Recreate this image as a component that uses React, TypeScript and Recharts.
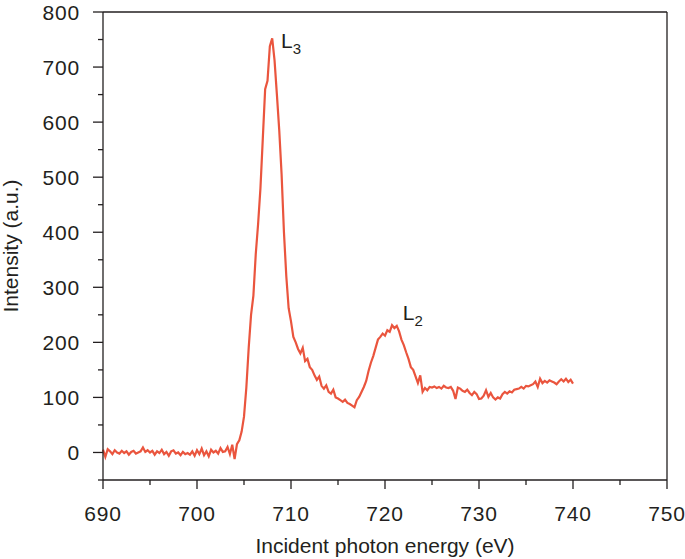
import React from 'react';
import { LineChart, Line, XAxis, YAxis, ReferenceDot, ReferenceLine, Label } from 'recharts';

// energy grid, 0.25 eV steps from 690 to 740
const energyStart = 690;
const energyStep = 0.25;

// intensity, four points per eV
const intensity = [
  5, -8, 6, 2, -3, 4, 0, -2, 3, -1, 2, -4, 1, 3, -2, 0, // 690-693
  2, 9, 1, 4, 0, 3, -4, 2, -1, 5, -3, 1, -6, 2, 4, -2, // 694-697
  0, -5, 1, -3, -1, -4, 2, -6, 4, -3, 7, -5, 2, -7, 5, 0, // 698-701
  3, -2, 8, 1, 2, 10, -3, 14, -12, 15, 22, 38, 65, 118, 190, 250, // 702-705
  285, 360, 415, 480, 570, 660, 675, 738, 752, 712, 650, 585, 505, 400, 320, 262, // 706-709
  238, 210, 200, 188, 180, 190, 166, 170, 155, 150, 140, 132, 138, 121, 116, 122, // 710-713
  110, 107, 114, 100, 98, 95, 92, 96, 90, 88, 85, 82, 95, 101, 110, 119, // 714-717
  130, 148, 163, 175, 190, 205, 210, 216, 212, 222, 219, 231, 226, 230, 220, 205, // 718-721
  195, 182, 170, 155, 150, 138, 126, 140, 110, 117, 113, 119, 118, 120, 117, 119, // 722-725
  116, 121, 118, 117, 119, 112, 97, 118, 116, 112, 110, 114, 108, 104, 110, 106, // 726-729
  97, 98, 103, 113, 101, 108, 100, 96, 100, 98, 106, 110, 107, 111, 109, 114, // 730-733
  115, 116, 119, 116, 121, 120, 122, 124, 129, 119, 134, 126, 130, 127, 131, 129, // 734-737
  127, 124, 129, 133, 129, 134, 128, 132, 125, // 738-740
];

const xTicks = [690, 695, 700, 705, 710, 715, 720, 725, 730, 735, 740, 745, 750];
const yTicks = [-50, 0, 50, 100, 150, 200, 250, 300, 350, 400, 450, 500, 550, 600, 650, 700, 750, 800];

const peakLabels = [
  { name: 'L', sub: '3', energy: 708.94, value: 734 },
  { name: 'L', sub: '2', energy: 721.9, value: 240 },
];

const data = intensity.map((v, i) => ({ energy: energyStart + i * energyStep, value: v }));

const FONT = '"Liberation Sans", Arial, Helvetica, sans-serif';
const INK = '#231f20';
const LINE_RED = '#ea553e';

const XTick = (props: any) => {
  const { x, y, payload } = props;
  const major = payload.value % 10 === 0;
  return (
    <g>
      <line x1={x} x2={x} y1={y} y2={y + (major ? 9 : 5)} stroke={INK} strokeWidth={1.3} />
      {major && (
        <text x={x} y={y + 41} textAnchor="middle" fontSize={21} fill={INK} fontFamily={FONT} letterSpacing={0.8}>
          {payload.value}
        </text>
      )}
    </g>
  );
};

const YTick = (props: any) => {
  const { x, y, payload } = props;
  const major = payload.value % 100 === 0;
  return (
    <g>
      <line x1={x - (major ? 10 : 5)} x2={x} y1={y} y2={y} stroke={INK} strokeWidth={1.3} />
      {major && (
        <text x={x - 23} y={y + 7.5} textAnchor="end" fontSize={21} fill={INK} fontFamily={FONT} letterSpacing={0.8}>
          {payload.value}
        </text>
      )}
    </g>
  );
};

const XTitle = (props: any) => {
  const vb = props.viewBox;
  return (
    <text x={vb.x + vb.width / 2} y={vb.y + 73} textAnchor="middle" fontSize={21} fill={INK} fontFamily={FONT}>
      Incident photon energy (eV)
    </text>
  );
};

const YTitle = (props: any) => {
  const vb = props.viewBox;
  const cy = vb.y + vb.height / 2;
  return (
    <text x={18} y={cy} transform={`rotate(-90, 18, ${cy})`} textAnchor="middle" fontSize={21} fill={INK} fontFamily={FONT}>
      Intensity (a.u.)
    </text>
  );
};

const App = () => {
  return (
    <div style={{ position: 'absolute', left: 0, top: 0, width: 685, height: 559, background: '#fff' }}>
      <LineChart width={685} height={559} data={data} margin={{ top: 12, right: 18, bottom: 0, left: 0 }}>
        <XAxis
          dataKey="energy"
          type="number"
          domain={[690, 750]}
          ticks={xTicks}
          interval={0}
          height={79}
          tickSize={0}
          tickMargin={0}
          tickLine={false}
          tick={<XTick />}
          axisLine={{ stroke: INK, strokeWidth: 1.3 }}
        >
          <Label content={<XTitle />} />
        </XAxis>
        <YAxis
          type="number"
          domain={[-50, 800]}
          ticks={yTicks}
          interval={0}
          width={103}
          tickSize={0}
          tickMargin={0}
          tickLine={false}
          tick={<YTick />}
          axisLine={{ stroke: INK, strokeWidth: 1.3 }}
        >
          <Label content={<YTitle />} />
        </YAxis>
        <ReferenceLine y={800} stroke={INK} strokeWidth={1.3} />
        <ReferenceLine x={750} stroke={INK} strokeWidth={1.3} />
        <Line
          type="linear"
          dataKey="value"
          stroke={LINE_RED}
          strokeWidth={2.2}
          dot={false}
          activeDot={false}
          isAnimationActive={false}
        />
        {peakLabels.map((p) => (
          <ReferenceDot
            key={p.sub}
            x={p.energy}
            y={p.value}
            r={0}
            shape={(s: any) => (
              <text x={s.cx} y={s.cy} fontSize={21} fill={INK} fontFamily={FONT}>
                {p.name}
                <tspan dy={6} fontSize={15}>{p.sub}</tspan>
              </text>
            )}
          />
        ))}
      </LineChart>
    </div>
  );
};

export default App;
